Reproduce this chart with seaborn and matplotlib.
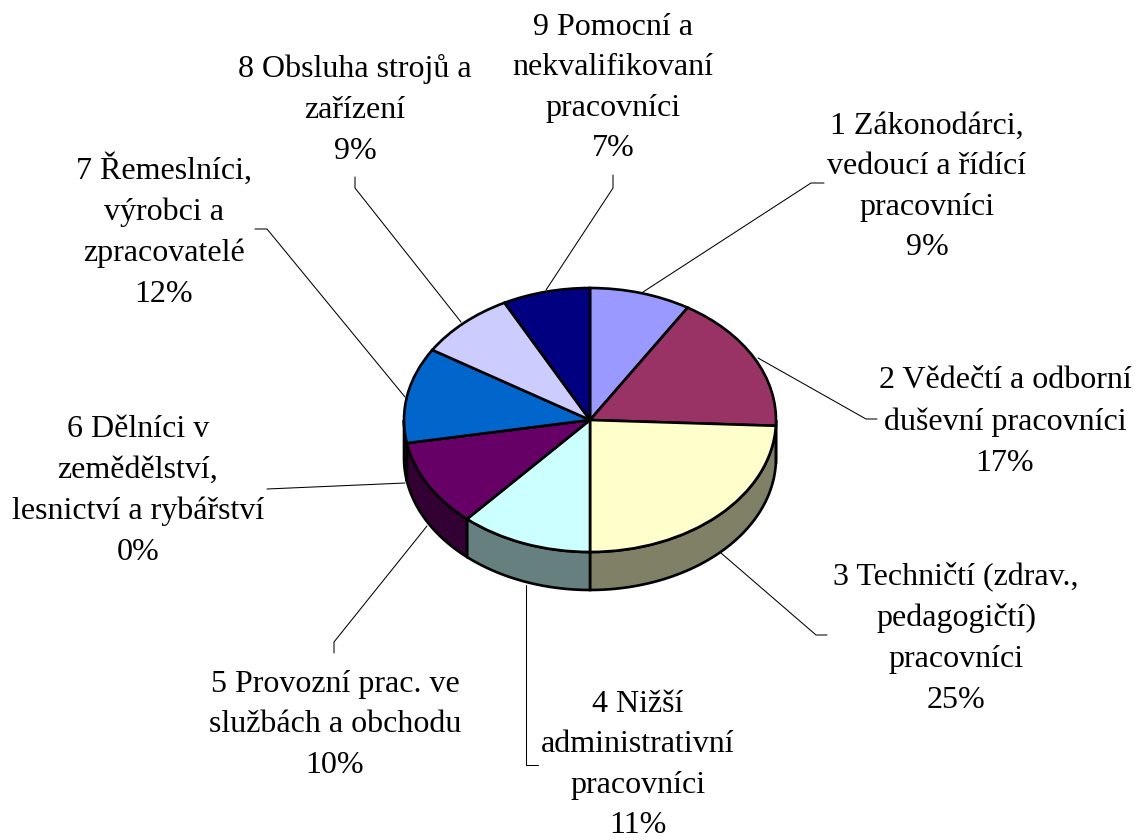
import matplotlib
matplotlib.use("Agg")
import numpy as np
import matplotlib.pyplot as plt
import seaborn as sns

labels = [
    "1 Zákonodárci,\nvedoucí a řídící\npracovníci",
    "2 Vědečtí a odborní\nduševní pracovníci",
    "3 Techničtí (zdrav.,\npedagogičtí)\npracovníci",
    "4 Nižší\nadministrativní\npracovníci",
    "5 Provozní prac. ve\nslužbách a obchodu",
    "6 Dělníci v\nzemědělství,\nlesnictví a rybářství",
    "7 Řemeslníci,\nvýrobci a\nzpracovatelé",
    "8 Obsluha strojů a\nzařízení",
    "9 Pomocní a\nnekvalifikovaní\npracovníci",
]
shares = [8.8, 16.9, 24.3, 11.5, 10.7, 0.0, 11.7, 8.5, 7.6]
printed = [9, 17, 25, 11, 10, 0, 12, 9, 7]
colors = ["#9999FF", "#993366", "#FFFFCC", "#CCFFFF", "#660066",
          "#FF8080", "#0066CC", "#CCCCFF", "#000080"]

W, H = 1136, 839
CX, CY, RX, RY, DEPTH = 590, 420, 186, 132, 38

# label block centres and leader lines, in pixels
label_pos = [(927, 187), (1005, 422), (956, 638), (638, 765), (335, 725),
             (138, 491), (164, 231), (355, 110), (613, 88)]
leaders = [
    [(643, 292), (811, 183), (824, 183)],
    [(758, 358), (866, 419), (877, 419)],
    [(721, 553), (816, 635), (827, 635)],
    [(526, 585), (526, 765), (538, 765)],
    [(427, 526), (334, 642), (334, 653)],
    [(405, 483), (267, 489)],
    [(405, 397), (267, 229), (255, 229)],
    [(461, 322), (355, 188), (355, 177)],
    [(546, 290), (613, 188), (613, 175)],
]

sns.set_style("white")
plt.rcParams["font.family"] = ["Liberation Serif", "DejaVu Serif"]

palette = sns.color_palette(colors)
side_palette = [tuple(c * 0.5 for c in col) for col in palette]

fig = plt.figure(figsize=(W / 100, H / 100), dpi=100)

# pie axes: unit circle squashed into the ellipse
ax = fig.add_axes([0, 0, 1, 1])
wedges, _ = ax.pie(shares, colors=palette, startangle=90, counterclock=False,
                   wedgeprops={"edgecolor": "black", "linewidth": 1.9, "zorder": 3})
ax.set_aspect("auto")
ax.set_xlim(-CX / RX, (W - CX) / RX)
ax.set_ylim((CY - H) / RY, CY / RY)
ax.axis("off")

# side wall under the front half, front is 180..360 degrees
d = DEPTH / RY
for w, col in zip(wedges, side_palette):
    start, stop = w.theta1, w.theta2
    if start < 0:
        start, stop = start + 360, stop + 360
    start, stop = max(start, 180), min(stop, 360)
    if stop <= start:
        continue
    t = np.radians(np.linspace(start, stop, 60))
    xs = np.r_[np.cos(t), np.cos(t[::-1])]
    ys = np.r_[np.sin(t), np.sin(t[::-1]) - d]
    ax.fill(xs, ys, facecolor=col, edgecolor="black", linewidth=1.9, zorder=2)

# overlay in pixel coordinates for labels and leader lines
over = fig.add_axes([0, 0, 1, 1], facecolor="none")
over.set_xlim(0, W)
over.set_ylim(H, 0)
over.axis("off")

for pts in leaders:
    px, py = zip(*pts)
    over.plot(px, py, color="black", lw=0.75, solid_joinstyle="miter")

for text, pct, (x, y) in zip(labels, printed, label_pos):
    over.text(x, y, f"{text}\n{pct}%", ha="center", va="center", fontsize=23,
              linespacing=1.53, color="black")

fig.savefig("out.png", dpi=100)
